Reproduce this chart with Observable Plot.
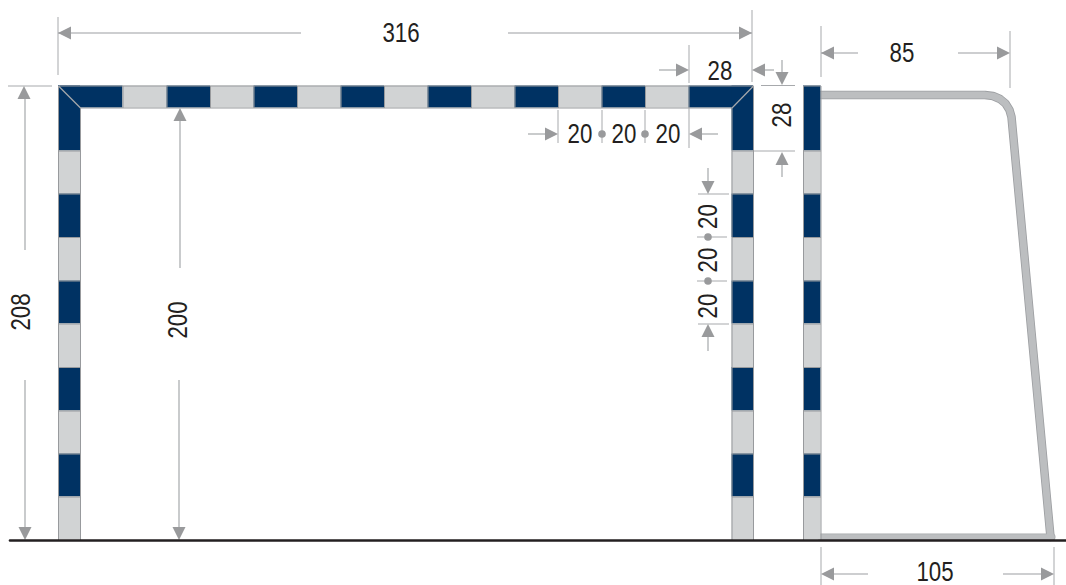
<!DOCTYPE html>
<html><head><meta charset="utf-8">
<script src="https://cdn.jsdelivr.net/npm/d3@7"></script>
<script src="https://cdn.jsdelivr.net/npm/@observablehq/plot@0.6"></script>
<style>html,body{margin:0;padding:0;background:#fff}svg{display:block}</style>
</head><body><div id="chart"></div>
<script>
// Drawing units match the picture's grid
const barEdges = [58.5,123,167,210.5,254,297.5,341,384.5,428,471.5,515,558.5,602,645.5,689,753.5];
const postEdges = [86,151,194,237.5,281,324,367.5,411,454,497,540];
const barTop = 86, barBottom = 108;
const posts = [[58.5,80.5],[732,753.5],[803.5,821]];
const navy = "#003263", pale = "#d1d3d4", edge = "#989a9d", dim = "#bcbec0", wit = "#a7a9ac", arrowGrey = "#999a9c", ink = "#231f20";

const tubeTop = [[821,95],[985,95],[993,96],[1000,99],[1005.5,103.5],[1009.5,110],[1011.5,117],[1050.5,537]];
const tubeBase = [[821,537],[1052,537]];
const ground = [[10,540.5],[1066,540.5]];

const shafts = [[58,33,301,33],[508,33,752,33],[659,70,680,70],[760,70,774,70],[782,60,782,75],[782,160,782,177],
  [528,134,548,134],[698,134,718,134],[708,168,708,184],[708,334,708,351],[25,98,25,250],[25,380,25,530],
  [180,118,180,268],[179,380,179,530],[821,53,858,53],[958,53,1000,53],[830,574,868,574],[1003,574,1044,574]];
const witnesses = [[58,17,58,75],[752,10,752,82],[689,45,689,83],[761,85.5,795,85.5],[754,151,795,151],
  [558,110,558,143],[602,110,602,143],[645,110,645,143],[689,108,689,148],
  [698,194,729,194],[697,237,727,237],[697,281,727,281],[698,324,729,324],
  [8,86,52,86],[821,26,821,77],[1010,31,1010,88],[821,547,821,585],[1054,547,1054,585]];
// tip x, tip y, heading in degrees
const arrows = [[58,33,-90],[752,33,90],[689,70,90],[752,70,-90],[782,85,180],[782,152,0],[558,134,90],[689,134,-90],
  [708,194,180],[708,324,0],[24,86,0],[25,540,180],[180,108,0],[179,540,180],[821,53,-90],[1010,53,90],[821,574,-90],[1054,574,90]];
const dots = [[602,134],[645,134],[708,237],[708,281]];
const labels = [["316",401,33,0],["28",720,71,0],["85",902,53,0],["105",935,572,0],
  ["20",580,134,0],["20",624,134,0],["20",668,134,0],["28",782,115,-90],
  ["20",708,216.5,-90],["20",708,260,-90],["20",708,306,-90],["208",21.5,312,-90],["200",178.5,320,-90]];
const diagonals = [[58.5,86,80.5,108],[753.5,86,732,108]];

const barRects = d3.pairs(barEdges).map(([a,b],i)=>({x1:a,x2:b,y1:barTop,y2:barBottom,c:i%2?pale:navy}));
const postRects = posts.flatMap(([a,b])=>d3.pairs(postEdges).map(([t,u],i)=>({x1:a,x2:b,y1:t,y2:u,c:i%2?pale:navy})));
const outline = [
  [58.5,barTop,753.5,barTop],[80.5,barBottom,732,barBottom],
  ...barEdges.slice(1,-1).map(x=>[x,barTop,x,barBottom]),
  [58.5,barTop,58.5,540],[80.5,barBottom,80.5,540],
  [732,barBottom,732,540],[753.5,barTop,753.5,540],
  [803.5,barTop,803.5,540],[821,barTop,821,540],[803.5,barTop,821,barTop],
  ...posts.flatMap(([a,b])=>postEdges.slice(1,-1).map(y=>[a,y,b,y]))
];
const seg = (strokeColor,w,rows)=>Plot.link(rows,{x1:d=>d[0],y1:d=>d[1],x2:d=>d[2],y2:d=>d[3],stroke:strokeColor,strokeWidth:w});
const tri = {draw(c,l){c.moveTo(0,0);c.lineTo(-6.5,l);c.lineTo(6.5,l);c.closePath();}};
const tube = (pts,color,w)=>Plot.line(pts,{x:d=>d[0],y:d=>d[1],stroke:color,strokeWidth:w,strokeLinejoin:"round"});

const chart = Plot.plot({
  width:1066,height:585,margin:0,style:{background:"#fff"},
  x:{domain:[0,1066],range:[-0.5,1065.5],axis:null},
  y:{domain:[0,585],range:[-0.5,584.5],axis:null},
  marks:[
    tube(tubeTop,"#9d9fa2",8.5),tube(tubeBase,"#a7a9ac",7),
    tube(tubeTop,"#bcbec0",6.8),tube(tubeBase,"#bcbec0",5.5),
    Plot.rect([...barRects,...postRects],{x1:"x1",x2:"x2",y1:"y1",y2:"y2",fill:"c",inset:0}),
    seg(edge,1,outline),
    seg("#a7a9ac",1.2,diagonals),
    seg(dim,1.6,shafts),
    seg(wit,1,witnesses),
    Plot.vector(arrows,{x:d=>d[0],y:d=>d[1],rotate:d=>d[2],length:13,anchor:"start",shape:tri,fill:arrowGrey,stroke:"none"}),
    Plot.dot(dots,{x:d=>d[0],y:d=>d[1],r:3.8,fill:arrowGrey,stroke:"none"}),
    tube(ground,ink,2.6),
    Plot.text(labels,{text:d=>d[0],x:d=>d[1],y:d=>d[2],rotate:d=>d[3],fontFamily:"'Liberation Sans',sans-serif",fontSize:28,fill:ink,textAnchor:"middle",lineAnchor:"middle"})
  ]
});
// The reference lettering is condensed: narrow the real text to its measured width
chart.querySelectorAll("text").forEach(t=>{
  t.setAttribute("textLength", t.textContent.length*12.4);
  t.setAttribute("lengthAdjust","spacingAndGlyphs");
});
document.getElementById("chart").append(chart);
</script></body></html>
